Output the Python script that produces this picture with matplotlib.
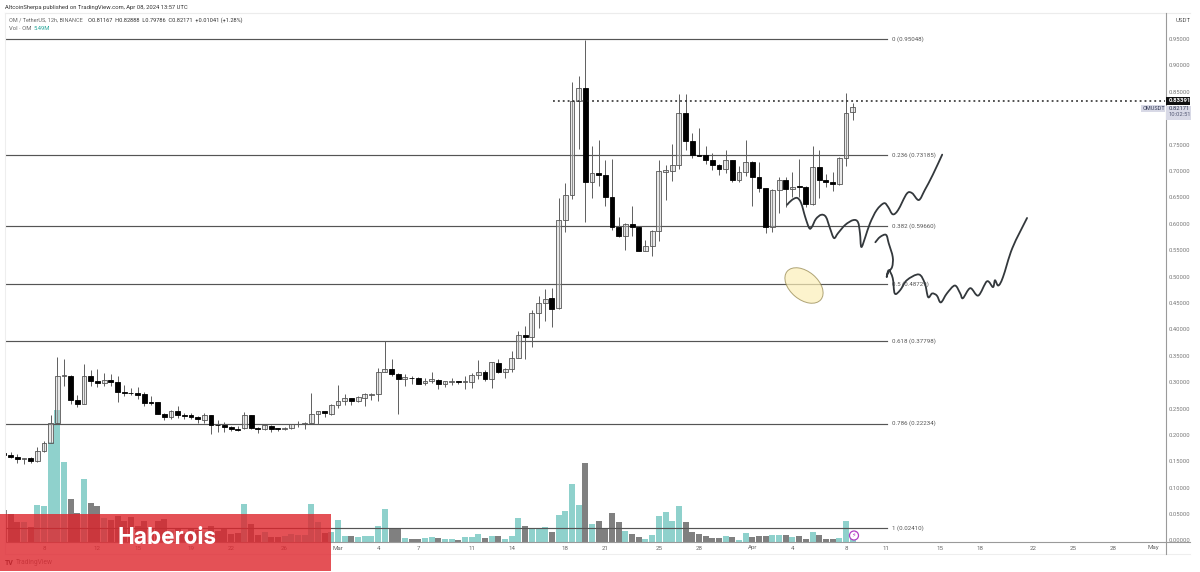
import matplotlib
matplotlib.use("Agg")
import matplotlib.pyplot as plt
from matplotlib.patches import Ellipse, Rectangle, PathPatch, Circle
from matplotlib.path import Path
from matplotlib.transforms import IdentityTransform

opens = [.167,.162,.159,.155,.157,.151,.170,.186,.223,.313,
         .313,.268,.259,.313,.304,.299,.305,.301,.283,.281,
         .280,.278,.263,.263,.241,.234,.246,.238,.238,.235,
         .230,.238,.220,.220,.216,.212,.214,.238,.214,.212,
         .218,.213,.213,.214,.221,.221,.224,.240,.246,.241,
         .258,.265,.270,.266,.271,.277,.278,.320,.325,.317,
         .307,.309,.309,.299,.304,.305,.298,.302,.303,.302,
         .301,.315,.320,.307,.338,.321,.325,.346,.391,.386,
         .432,.450,.461,.441,.609,.656,.834,.859,.681,.698,
         .693,.652,.595,.578,.600,.595,.550,.559,.588,.700,
         .701,.713,.810,.757,.732,.732,.722,.713,.704,.721,
         .684,.699,.719,.689,.668,.595,.665,.684,.667,.672,
         .671,.638,.708,.684,.680,.677,.726,.812]
highs = [.167,.169,.164,.157,.159,.178,.190,.239,.348,.345,
         .314,.277,.336,.324,.326,.318,.317,.312,.296,.289,
         .291,.282,.274,.264,.243,.248,.256,.242,.243,.237,
         .243,.239,.229,.226,.218,.218,.245,.239,.215,.220,
         .219,.214,.216,.222,.228,.226,.280,.247,.247,.259,
         .296,.278,.271,.275,.280,.280,.328,.378,.345,.319,
         .317,.313,.310,.308,.321,.306,.304,.308,.304,.313,
         .318,.343,.323,.340,.345,.327,.359,.398,.408,.437,
         .465,.478,.479,.649,.678,.869,.881,.950,.749,.760,
         .721,.724,.614,.603,.635,.596,.570,.589,.722,.713,
         .753,.846,.846,.773,.783,.748,.736,.715,.740,.722,
         .710,.760,.720,.719,.669,.667,.689,.689,.700,.724,
         .673,.748,.741,.695,.699,.728,.848,.829]
lows = [.163,.157,.147,.145,.148,.150,.169,.186,.222,.294,
        .260,.254,.259,.294,.292,.294,.294,.264,.274,.277,
        .269,.255,.258,.240,.229,.231,.233,.232,.231,.224,
        .224,.202,.206,.206,.209,.209,.212,.212,.205,.211,
        .207,.209,.210,.213,.216,.212,.223,.221,.234,.239,
        .252,.258,.258,.264,.256,.267,.266,.320,.313,.240,
        .294,.297,.298,.296,.299,.288,.291,.296,.297,.287,
        .290,.307,.304,.290,.319,.309,.320,.346,.344,.367,
        .403,.417,.406,.439,.586,.648,.743,.605,.649,.673,
        .635,.589,.576,.552,.578,.549,.549,.540,.568,.647,
        .682,.705,.741,.725,.729,.715,.702,.694,.698,.681,
        .681,.692,.635,.662,.584,.586,.622,.633,.652,.651,
        .632,.636,.649,.670,.664,.675,.711,.798]
closes = [.163,.159,.155,.157,.151,.170,.186,.223,.313,.314,
          .267,.259,.313,.304,.299,.305,.301,.283,.280,.280,
          .277,.261,.261,.241,.234,.246,.238,.237,.235,.231,
          .239,.219,.219,.216,.212,.211,.238,.214,.212,.219,
          .212,.212,.214,.221,.222,.224,.240,.246,.242,.258,
          .266,.270,.266,.272,.278,.279,.321,.326,.317,.306,
          .310,.308,.298,.304,.306,.298,.303,.303,.302,.303,
          .315,.320,.307,.339,.321,.325,.346,.391,.386,.432,
          .450,.459,.439,.609,.655,.834,.859,.681,.698,.693,
          .652,.594,.578,.600,.594,.550,.559,.588,.701,.702,
          .713,.810,.758,.732,.730,.722,.712,.704,.721,.684,
          .699,.718,.689,.668,.595,.665,.684,.667,.670,.670,
          .638,.708,.684,.680,.677,.726,.811,.822]
volumes = [32,28,20,20,15,37,36,100,132,80,
           43,29,63,39,36,24,22,26,21,25,
           16,21,14,21,23,12,14,9,14,12,
           10,16,11,14,8,9,38,18,7,10,
           5,5,6,8,7,7,38,20,9,10,
           22,6,6,5,6,6,16,33,14,14,
           4,3,3,4,5,4,3,3,2,5,
           5,8,4,6,6,3,6,24,16,14,
           14,15,10,27,31,58,37,79,18,21,
           13,29,20,11,8,5,3,7,26,30,
           21,36,20,10,8,6,4,4,6,5,
           2,9,5,6,6,7,7,7,5,6,
           3,10,7,3,3,4,21,5.5]

fib_prices = [0.95048, 0.73185, 0.59660, 0.48729, 0.37798, 0.22234, 0.02410]
fib_labels = ["0 (0.95048)", "0.236 (0.73185)", "0.382 (0.59660)", "0.5 (0.48729)",
              "0.618 (0.37798)", "0.786 (0.22234)", "1 (0.02410)"]
resistance = 0.83391
price_ticks = [round(0.05 * k, 2) for k in range(0, 20)]
date_pos = [6,14,20,28,34,42,50,56,62,70,76,84,90,98,104,112,118,126,132,140,146,154,160,166,172]
date_labels = ["8","12","15","19","22","26","Mar","4","7","11","14","18","21","25","28",
               "Apr","4","8","11","15","18","22","25","28","May"]

sketch1_x = [117.2,117.9,118.7,119.3,119.9,120.5,120.9,121.5,122.3,123.0,123.6,124.2,124.8,125.9,127.1,127.8,
             128.1,128.3,128.9,129.6,130.6,131.7,132.3,133.0,133.8,135.1,135.9,136.9,137.8,139.0,140.4]
sketch1_p = [.637,.646,.650,.640,.614,.593,.595,.610,.618,.614,.593,.574,.583,.599,.608,.604,
             .583,.557,.576,.602,.627,.640,.633,.619,.627,.658,.659,.646,.665,.694,.732]
sketch2_x = [130.4,131.1,132.0,132.4,133.0,132.9,132.3,132.1,132.4,133.0,133.3,134.1,135.1,136.9,137.8,138.3,
             138.9,139.6,140.2,141.1,142.3,143.1,143.5,144.6,145.8,147.1,148.0,148.3,148.8,149.5,150.9,153.1]
sketch2_p = [.566,.576,.580,.564,.538,.519,.509,.500,.513,.498,.469,.475,.494,.505,.488,.462,
             .469,.465,.452,.469,.484,.469,.460,.479,.465,.492,.481,.494,.484,.500,.555,.612]

plt.rcParams['font.family'] = ['Roboto', 'DejaVu Sans']
W, H = 1200, 572
fig = plt.figure(figsize=(12, 5.72), dpi=100, facecolor="white")
left, right, top, bottom = 5, 1165, 13, 541.5
shift = 0.8
ax = fig.add_axes([left / W, (H - bottom + shift) / H, (right - left) / W, (bottom - top) / H])
ax.set_xlim(0.165, 173.74)
ax.set_ylim(0.0005, 1.0019)
ax.patch.set_alpha(0)
for s in ax.spines.values():
    s.set_visible(False)
ax.set_yticks([])
ax.set_xticks([])

vax = fig.add_axes([left / W, (H - bottom) / H, (right - left) / W, (bottom - top) / H])
vax.set_xlim(0.165, 173.74)
vax.set_zorder(ax.get_zorder() - 1)
vax.set_ylim(0, bottom - top)
vax.axis("off")

UP, DOWN = "#8fd1cc", "#808080"
n = len(opens)
assert n == len(highs) == len(lows) == len(closes) == len(volumes)
for i in range(n):
    up = closes[i] >= opens[i]
    vax.bar(i, volumes[i], width=0.9, color=UP if up else DOWN, linewidth=0)
    ax.plot([i, i], [lows[i], highs[i]], color="#5e5e5e", lw=0.7, zorder=3, solid_capstyle="butt")
    lo, hi = sorted((opens[i], closes[i]))
    ax.add_patch(Rectangle((i - 0.36, lo), 0.72, max(hi - lo, 0.0012),
                           facecolor=(0.80, 0.80, 0.80, 0.42) if up else "black",
                           edgecolor="#555555" if up else "black", lw=0.6, zorder=4))

for p, lab in zip(fib_prices, fib_labels):
    ax.plot([0.165, 132.2], [p, p], color="#555555", lw=0.85, zorder=2)
    ax.text(132.9, p, lab, fontsize=4.4, color="#555555", va="center", ha="left", zorder=5)

ax.plot([82.2, 173.74], [resistance, resistance], color="#222222", lw=1.1,
        ls=(0, (1.2, 2.0)), zorder=5)


def smooth(xs, ys, color="#33383c", lw=1.3):
    pts = list(zip(xs, ys))
    verts = [pts[0]]
    codes = [Path.MOVETO]
    for k in range(len(pts) - 1):
        p0 = pts[max(k - 1, 0)]
        p1 = pts[k]
        p2 = pts[k + 1]
        p3 = pts[min(k + 2, len(pts) - 1)]
        c1 = (p1[0] + (p2[0] - p0[0]) / 6, p1[1] + (p2[1] - p0[1]) / 6)
        c2 = (p2[0] - (p3[0] - p1[0]) / 6, p2[1] - (p3[1] - p1[1]) / 6)
        verts += [c1, c2, p2]
        codes += [Path.CURVE4] * 3
    ax.add_patch(PathPatch(Path(verts, codes), facecolor="none", edgecolor=color, lw=lw,
                           zorder=6, capstyle="round", joinstyle="round"))


smooth(sketch1_x, sketch1_p)
smooth(sketch2_x, sketch2_p)

fig.add_artist(Ellipse((804, H - 285.5), 44, 28, angle=-40, transform=IdentityTransform(),
                       facecolor="#fbeeb8", alpha=0.7, edgecolor="#8d7f45", lw=0.7, zorder=5))
fig.add_artist(Circle((854, H - 535.5), 4.5, transform=IdentityTransform(), facecolor="white",
                      edgecolor="#b23fc4", lw=0.9, zorder=7))
fig.text(854 / W, (H - 535.5) / H, "\u26a1", fontsize=4.5, color="#b23fc4", family="DejaVu Sans",
         ha="center", va="center", zorder=8)


def hline(y, x0, x1, color, lw=0.8):
    fig.add_artist(plt.Line2D([x0 / W, x1 / W], [(H - y) / H] * 2, color=color, lw=lw, zorder=3))


def vline(x, y0, y1, color, lw=0.8):
    fig.add_artist(plt.Line2D([x / W] * 2, [(H - y0) / H, (H - y1) / H], color=color, lw=lw, zorder=3))


hline(13, 5, 1190, "#ececec")
hline(541.5, 5, 1190, "#9a9a9a", 0.8)
hline(554, 5, 1190, "#eeeeee")
vline(5, 13, 554, "#eeeeee")
vline(1165.5, 13, 554, "#9a9a9a")

to_y = ax.transData
for p in price_ticks:
    disp = to_y.transform((0.2, p))[1]
    fig.text(1169 / W, disp / H, f"{p:.5f}", fontsize=4.2, color="#777777", va="center", ha="left", zorder=2)
fig.text(1176 / W, (H - 21) / H, "USDT", fontsize=4.4, color="#555555", va="center", ha="left")

ybox = to_y.transform((0.2, resistance))[1]
fig.add_artist(Rectangle((1166, ybox - 3.8), 24, 7.6, transform=IdentityTransform(), facecolor="#111111", lw=0, zorder=6))
fig.text(1168.5 / W, ybox / H, "0.83391", fontsize=4.3, color="white", va="center", ha="left", zorder=7, fontweight="bold")
fig.add_artist(Rectangle((1166, H - 119.5), 25, 14, transform=IdentityTransform(), facecolor="#d8d9e6", lw=0, zorder=6))
fig.text(1169 / W, (H - 108.5) / H, "0.82171", fontsize=4.2, color="#333a55", va="center", ha="left", zorder=7)
fig.text(1169 / W, (H - 115) / H, "10:02:51", fontsize=4.2, color="#555a75", va="center", ha="left", zorder=7)
fig.add_artist(Rectangle((1141, H - 112), 24, 7.5, transform=IdentityTransform(), facecolor="#d8d9e6", lw=0, zorder=6))
fig.text(1143 / W, (H - 108.3) / H, "OMUSDT", fontsize=4.0, color="#333a55", va="center", ha="left", zorder=7)

for pos, lab in zip(date_pos, date_labels):
    x = ax.transData.transform((pos, 0.1))[0]
    fig.text(x / W, (H - 548) / H, lab, fontsize=4.4, color="#666666", ha="center", va="center", zorder=2)

fig.text(5 / W, (H - 7) / H, "AltcoinSherpa published on TradingView.com, Apr 08, 2024 13:57 UTC",
         fontsize=4.2, color="#333333", va="center", ha="left")
fig.text(9 / W, (H - 20) / H, "OM / TetherUS, 12h, BINANCE", fontsize=3.95, color="#666666", va="center", ha="left")
fig.text(88 / W, (H - 20) / H, "O0.81167  H0.82888  L0.79786  C0.82171  +0.01041 (+1.28%)",
         fontsize=4.1, color="#333333", va="center", ha="left")
fig.text(9 / W, (H - 28.5) / H, "Vol \u00b7 OM", fontsize=4.2, color="#666666", va="center", ha="left")
fig.text(34 / W, (H - 28.5) / H, "5.49M", fontsize=4.2, color="#26a69a", va="center", ha="left")

fig.text(5 / W, (H - 563) / H, "TV", fontsize=5, color="#333333", fontweight="bold", va="center", ha="left", zorder=2)
fig.text(16 / W, (H - 563) / H, "TradingView", fontsize=4.8, color="#777777", va="center", ha="left", zorder=2)

fig.add_artist(Rectangle((0, H - 571), 331, 57, transform=IdentityTransform(),
                         facecolor="#de252c", alpha=0.8, lw=0, zorder=20))
fig.text(166.5 / W, (H - 538) / H, "Haberois", fontsize=16.2, color="white", fontweight="bold",
         family=["Inter", "DejaVu Sans"], ha="center", va="center", zorder=21)

fig.savefig("out.png", dpi=100)
